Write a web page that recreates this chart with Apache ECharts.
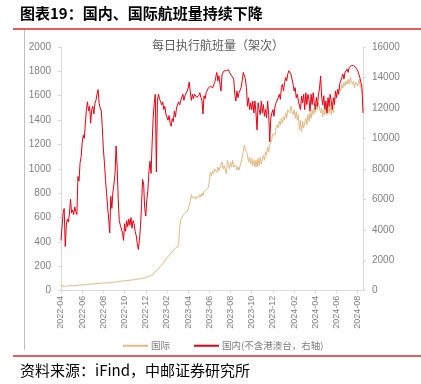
<!DOCTYPE html>
<html>
<head>
<meta charset="utf-8">
<script src="https://cdn.jsdelivr.net/npm/echarts@6/dist/echarts.min.js"></script>
<style>
html,body{margin:0;padding:0;background:#fff;}
#chart{width:421px;height:384px;}
</style>
</head>
<body>
<div id="chart"></div>
<script>
// Months covered (samples roughly every 3 days inside each month)
const months = ['2022-04','2022-05','2022-06','2022-07','2022-08','2022-09','2022-10','2022-11','2022-12',
  '2023-01','2023-02','2023-03','2023-04','2023-05','2023-06','2023-07','2023-08','2023-09','2023-10','2023-11','2023-12',
  '2024-01','2024-02','2024-03','2024-04','2024-05','2024-06','2024-07','2024-08'];

// 国际 (left axis)
const intl = [
  55, 38, 42, 35, 44, 38, 45, 40, 46, 42,
  46, 40, 47, 42, 49, 43, 50, 45, 52, 47,
  54, 48, 55, 50, 57, 52, 58, 53, 60, 55,
  62, 56, 63, 58, 64, 59, 66, 60, 67, 62,
  68, 62, 70, 64, 71, 65, 73, 67, 75, 69,
  77, 71, 80, 74, 82, 76, 84, 78, 86, 80,
  88, 82, 90, 84, 92, 86, 95, 88, 97, 90,
  99, 93, 102, 95, 105, 98, 108, 101, 112, 104,
  120, 113, 125, 118, 132, 124, 140, 132, 150, 142,
  165, 158, 180, 172, 200, 192, 222, 215, 245, 238,
  270, 262, 290, 282, 310, 300, 330, 322, 350, 342,
  360, 378, 520, 585, 590, 615, 610, 635, 625, 650,
  670, 700, 735, 790, 760, 745, 775, 750, 770, 755,
  765, 790, 770, 800, 780, 815, 800, 830, 815, 850,
  900, 970, 945, 985, 960, 1000, 985, 970, 1015, 985,
  985, 1030, 1055, 1000, 1025, 1030, 960, 1070, 1040, 1000,
  1055, 1015, 1070, 1015, 1000, 1030, 990, 1015, 990, 975,
  1055, 1095, 1140, 1195, 1210, 1140, 1110, 1055, 1095, 1040,
  1085, 1025, 1070, 1015, 1070, 1015, 1085, 1025, 1095, 1040,
  1055, 1110, 1070, 1140, 1110, 1180, 1140, 1195, 1220, 1250,
  1290, 1305, 1275, 1335, 1360, 1335, 1390, 1360, 1415, 1375,
  1430, 1400, 1460, 1415, 1485, 1500, 1460, 1515, 1470, 1445,
  1485, 1415, 1470, 1400, 1445, 1320, 1400, 1305, 1390, 1335,
  1345, 1415, 1360, 1445, 1390, 1460, 1415, 1485, 1445, 1500,
  1460, 1530, 1485, 1540, 1500, 1460, 1500, 1430, 1485, 1445,
  1500, 1445, 1515, 1460, 1530, 1445, 1500, 1460, 1555, 1570,
  1595, 1625, 1640, 1665, 1640, 1695, 1665, 1710, 1680, 1720,
  1695, 1735, 1695, 1750, 1720, 1695, 1720, 1665, 1710, 1720,
  1680, 1735, 1695, 1680, 1640, 1610
];

// 国内（不含港澳台，右轴）
const domestic = [
  3300, 4200, 5100, 5400, 2900, 4300, 4700, 4500, 5100, 6000,
  5100, 5300, 5000, 5500, 5200, 5000, 7500, 7200, 8400, 8800,
  9700, 10200, 10000, 11000, 11900, 12400, 11800, 12100, 11000, 11900,
  12100, 11600, 12300, 12500, 12900, 13200, 12300, 12000, 11800, 10700,
  9300, 8400, 7300, 6400, 5500, 4700, 3800, 6200, 5400, 6500,
  7000, 7700, 9500, 8100, 6000, 4600, 4300, 4400, 3800, 3300,
  4400, 3900, 4600, 4200, 4700, 4300, 4800, 4100, 4600, 4400,
  3900, 3600, 3100, 2700, 3300, 4200, 5600, 7300, 7000, 5400,
  4900, 6000, 6600, 7800, 8500, 7700, 9700, 11400, 12300, 12900,
  7800, 12500, 12900, 12600, 12400, 12200, 12400, 11900, 12100, 11600,
  11400, 11200, 11500, 11000, 10800, 11300, 11100, 11800, 11400, 12000,
  12000, 12400, 12200, 12500, 12600, 12900, 12500, 12800, 12700, 13100,
  13300, 13700, 13100, 12500, 12900, 12600, 12900, 13000, 12700, 12800,
  12800, 13000, 12700, 12500, 11600, 12800, 12600, 13000, 13100, 13300,
  13300, 13450, 13560, 13300, 13350, 13670, 14000, 14330, 13780, 14110,
  13560, 13110, 14220, 14330, 14440, 14550, 14440, 14440, 14510, 14330,
  14220, 14110, 14000, 13890, 12890, 12450, 13110, 12670, 13000, 13110,
  13330, 13780, 14330, 14440, 13890, 13330, 12110, 12670, 11890, 12340,
  11890, 12450, 11670, 12450, 11670, 10560, 12340, 11890, 11560, 12450,
  11670, 12220, 11450, 11890, 11340, 12450, 11560, 9780, 11340, 11670,
  11890, 11450, 12110, 12340, 12450, 12670, 12890, 12560, 13330, 13560,
  13110, 13670, 14000, 13780, 14220, 14440, 14550, 14220, 14330, 13560,
  13110, 13330, 12670, 12890, 12450, 12560, 11890, 12780, 12340, 12890,
  11890, 13000, 12220, 12890, 12560, 11780, 12890, 12220, 13000, 12340,
  11900, 12700, 12100, 12900, 13300, 14100, 12700, 12200, 12800, 11900,
  12450, 11670, 12670, 12110, 12890, 12450, 11890, 12670, 12220, 13110,
  12670, 13220, 12890, 13560, 13780, 14000, 14220, 13890, 14330, 14440,
  14550, 14330, 14670, 14620, 14780, 14710, 14780, 14670, 14670, 14550,
  14440, 14220, 14000, 13670, 13330, 11670
];

const seriesNames = ['国际', '国内(不含港澳台，右轴)'];
const chartTitle = '图表19：国内、国际航班量持续下降';
const innerTitle = '每日执行航班量（架次）';
const sourceText = '资料来源：iFind，中邮证券研究所';

// Build sample dates: 10 samples per month, fewer for the last month
const categories = [];
const perMonth = 10;
months.forEach((m, i) => {
  const n = i === months.length - 1 ? intl.length - perMonth * (months.length - 1) : perMonth;
  for (let k = 0; k < n; k++) {
    categories.push(m + '-' + String(1 + 3 * k).padStart(2, '0'));
  }
});

const showLabel = (idx, val) => val.endsWith('-01') && parseInt(val.slice(5, 7), 10) % 2 === 0;

const chart = echarts.init(document.getElementById('chart'), null, { renderer: 'canvas' });
const gray = '#7f7f7f';
const axisGray = '#d9d9d9';

chart.setOption({
  animation: false,
  backgroundColor: '#fff',
  title: [
    { text: chartTitle, left: 20, top: 6, padding: 0,
      textStyle: { fontFamily: 'Noto Sans CJK SC', fontSize: 15, fontWeight: 'bold', color: '#000' } },
    { text: innerTitle, left: 218, top: 39, padding: 0, textAlign: 'center',
      textStyle: { fontFamily: 'Noto Sans CJK SC', fontSize: 12, fontWeight: 'normal', color: '#595959' } },
    { text: sourceText, left: 20, top: 363, padding: 0,
      textStyle: { fontFamily: 'Noto Sans CJK SC', fontSize: 15, fontWeight: 'normal', color: '#000' } }
  ],
  graphic: [
    { type: 'line', shape: { x1: 13, y1: 29, x2: 421, y2: 29 }, style: { stroke: '#d7292b', lineWidth: 1.5 } },
    { type: 'line', shape: { x1: 13, y1: 356, x2: 421, y2: 356 }, style: { stroke: '#d7292b', lineWidth: 1.5 } },
    { type: 'line', shape: { x1: 24.5, y1: 30, x2: 24.5, y2: 350 }, style: { stroke: '#bfbfbf', lineWidth: 1 } }
  ],
  legend: {
    data: seriesNames,
    left: 118, top: 336,
    itemWidth: 25, itemHeight: 2, itemGap: 24,
    icon: 'rect',
    textStyle: { fontFamily: 'Noto Sans CJK SC', fontSize: 9.5, color: gray, padding: [0, 0, 0, -2] }
  },
  grid: { left: 61, right: 58, top: 47, bottom: 93.3, containLabel: false },
  xAxis: {
    type: 'category',
    data: categories,
    boundaryGap: false,
    axisLine: { lineStyle: { color: axisGray } },
    axisTick: { show: true, interval: showLabel, length: 3, lineStyle: { color: axisGray } },
    axisLabel: {
      interval: showLabel, rotate: 90, margin: 5, fontSize: 9, color: gray,
      fontFamily: 'Liberation Sans',
      formatter: v => v.slice(0, 7)
    },
    splitLine: { show: false }
  },
  yAxis: [
    { type: 'value', min: 0, max: 2000, interval: 200, position: 'left',
      axisLine: { show: true, lineStyle: { color: axisGray } },
      axisTick: { show: true, length: 3, lineStyle: { color: axisGray } },
      axisLabel: { fontSize: 10, color: gray, margin: 10, fontFamily: 'Liberation Sans', formatter: v => String(v) },
      splitLine: { show: false } },
    { type: 'value', min: 0, max: 16000, interval: 2000, position: 'right',
      axisLine: { show: true, lineStyle: { color: axisGray } },
      axisTick: { show: true, length: 3, lineStyle: { color: axisGray } },
      axisLabel: { fontSize: 10, color: gray, margin: 9, fontFamily: 'Liberation Sans', formatter: v => String(v) },
      splitLine: { show: false } }
  ],
  series: [
    { name: seriesNames[0], type: 'line', yAxisIndex: 0, data: intl, showSymbol: false,
      lineStyle: { width: 1, color: '#e2b984' }, itemStyle: { color: '#e2b984' } },
    { name: seriesNames[1], type: 'line', yAxisIndex: 1, data: domestic, showSymbol: false,
      lineStyle: { width: 1, color: '#e60012' }, itemStyle: { color: '#e60012' } }
  ]
});
</script>
</body>
</html>
